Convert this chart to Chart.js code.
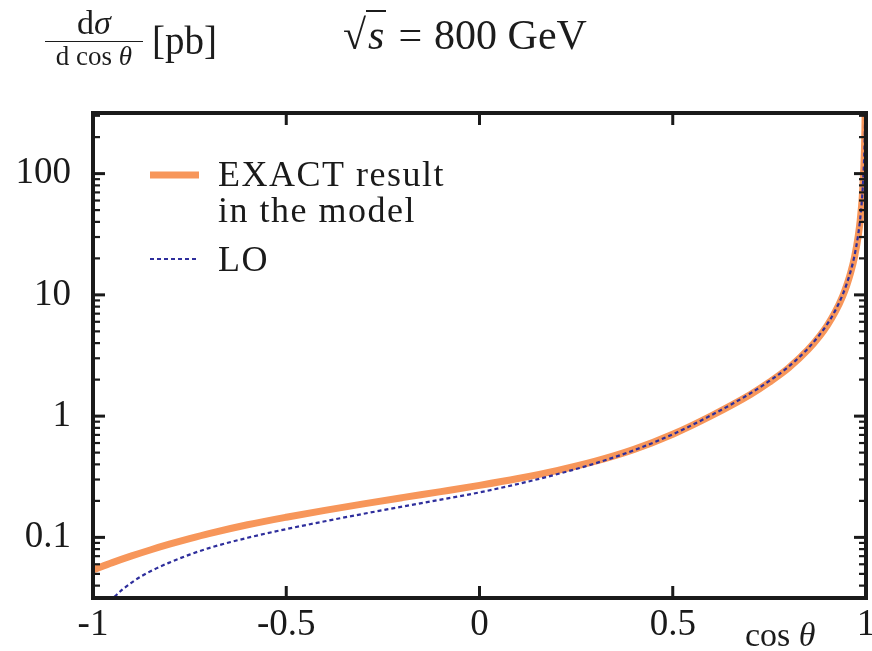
<!DOCTYPE html>
<html>
<head>
<meta charset="utf-8">
<script src="https://cdn.jsdelivr.net/npm/chart.js@4.4.1/dist/chart.umd.min.js"></script>
<style>
  html, body { margin: 0; padding: 0; background: #fff; }
  #wrap { position: relative; width: 872px; height: 651px; font-family: "Liberation Serif", serif; color: #1c1c1c; }
  #c { position: absolute; left: 0; top: 0; }
  .t { position: absolute; white-space: nowrap; }
  #frac { left: 45px; top: 4px; width: 98px; text-align: center; }
  #frac .num { font-size: 34px; line-height: 37px; border-bottom: 1.8px solid #1c1c1c; }
  #frac .den { font-size: 27px; line-height: 28px; }
</style>
</head>
<body>
<div id="wrap">
  <canvas id="c" width="872" height="651"></canvas>
  <div class="t" id="frac"><div class="num">d<i>σ</i></div><div class="den">d cos <i>θ</i></div></div>
  <div class="t" style="left:152px;top:18px;font-size:39px;">[pb]</div>
  <div class="t" style="left:343px;top:11px;font-size:42px;">√<span style="border-top:2px solid #1c1c1c;padding:0 2px;"><i>s</i></span><span style="margin:0 12px;">=</span>800 GeV</div>
  <div class="t" style="left:745px;top:616px;font-size:34px;">cos <i>θ</i></div>
</div>
<script>
// cos(theta) sample points
const cosTheta = [-1, -0.95, -0.9, -0.85, -0.8, -0.75, -0.7, -0.6, -0.5, -0.4, -0.3, -0.2, -0.1, 0,
  0.1, 0.2, 0.3, 0.4, 0.5, 0.6, 0.7, 0.75, 0.8, 0.85, 0.88, 0.9, 0.92, 0.94, 0.95, 0.96, 0.97, 0.98,
  0.985, 0.99, 0.9945, 0.997, 0.9985, 1];

// dsigma/dcos(theta) in pb
const exactResult = [0.054, 0.0619, 0.0703, 0.0791, 0.0882, 0.0977, 0.1075, 0.1272, 0.1467, 0.1671, 0.189, 0.2126, 0.2385, 0.2685,
  0.3058, 0.3552, 0.4246, 0.5314, 0.7086, 1.007, 1.5, 1.906, 2.5, 3.53, 4.57, 5.61, 7.19, 9.83, 11.95, 15.1, 20.3, 30.8,
  41.2, 62.3, 114.7, 214, 440, 2000];
const loResult = [0.0191, 0.031, 0.0424, 0.0528, 0.0624, 0.0721, 0.0816, 0.0992, 0.117, 0.1358, 0.1565, 0.1793, 0.2049, 0.235,
  0.2758, 0.3315, 0.4083, 0.5231, 0.7086, 1.019, 1.535, 1.95, 2.56, 3.62, 4.69, 5.76, 7.38, 10.1, 12.3, 15.55, 20.9, 31.7,
  42.4, 64.2, 118, 220, 453, 2060];

const xTicks = [-1, -0.5, 0, 0.5, 1];
const xTickLabels = ['-1', '-0.5', '0', '0.5', '1'];
const yTicks = [0.1, 1, 10, 100];
const yTickLabels = ['0.1', '1', '10', '100'];

const ORANGE = '#f7965a';
const NAVY = '#2e2e9c';
const INK = '#1a1a1a';
const FONT = '"Liberation Serif", serif';

function toPoints(xs, ys) {
  return xs.map((x, i) => ({ x, y: ys[i] }));
}

function minorTicks(min, max) {
  const out = [];
  for (let k = -3; k <= 3; k++) {
    for (let m = 2; m <= 9; m++) {
      const v = m * Math.pow(10, k);
      if (v > min && v < max) out.push(v);
    }
  }
  return out;
}

const framePlugin = {
  id: 'frame',
  afterDatasetsDraw(chart) {
    const { ctx, chartArea: a, scales: { x, y } } = chart;
    const seg = (x1, y1, x2, y2) => { ctx.beginPath(); ctx.moveTo(x1, y1); ctx.lineTo(x2, y2); ctx.stroke(); };
    ctx.save();
    ctx.strokeStyle = INK;
    ctx.lineWidth = 3;
    xTicks.forEach((v) => {
      const px = x.getPixelForValue(v);
      seg(px, a.bottom, px, a.bottom - 12);
      seg(px, a.top, px, a.top + 12);
    });
    yTicks.forEach((v) => {
      const py = y.getPixelForValue(v);
      seg(a.left, py, a.left + 12, py);
      seg(a.right, py, a.right - 12, py);
    });
    ctx.lineWidth = 2.2;
    minorTicks(y.min, y.max).forEach((v) => {
      const py = y.getPixelForValue(v);
      seg(a.left, py, a.left + 7, py);
      seg(a.right, py, a.right - 7, py);
    });
    ctx.lineWidth = 4;
    ctx.strokeRect(a.left, a.top, a.right - a.left, a.bottom - a.top);

    // legend
    ctx.lineWidth = 7;
    ctx.strokeStyle = ORANGE;
    seg(150, 175, 199, 175);
    ctx.lineWidth = 2.2;
    ctx.strokeStyle = NAVY;
    ctx.setLineDash([4, 3]);
    seg(150, 259, 199, 259);
    ctx.setLineDash([]);
    ctx.fillStyle = INK;
    ctx.font = '36px ' + FONT;
    ctx.letterSpacing = '1.5px';
    ctx.textBaseline = 'alphabetic';
    ctx.fillText('EXACT result', 218, 186);
    ctx.fillText('in the model', 218, 222);
    ctx.fillText('LO', 218, 271);
    ctx.restore();
  }
};

new Chart(document.getElementById('c'), {
  type: 'line',
  data: {
    datasets: [
      {
        label: 'EXACT result in the model',
        data: toPoints(cosTheta, exactResult),
        borderColor: ORANGE,
        borderWidth: 7,
        pointRadius: 0,
        cubicInterpolationMode: 'monotone',
        fill: false,
        order: 1
      },
      {
        label: 'LO',
        data: toPoints(cosTheta, loResult),
        borderColor: NAVY,
        borderWidth: 2.2,
        borderDash: [4, 3],
        pointRadius: 0,
        cubicInterpolationMode: 'monotone',
        fill: false,
        order: 0
      }
    ]
  },
  options: {
    responsive: false,
    animation: false,
    layout: { padding: { top: 113, right: 6, left: 0, bottom: 0 } },
    plugins: { legend: { display: false }, tooltip: { enabled: false } },
    scales: {
      x: {
        type: 'linear',
        min: -1,
        max: 1,
        afterFit: (s) => { s.height = 53; s.paddingLeft = 0; s.paddingRight = 0; },
        afterBuildTicks: (s) => { s.ticks = xTicks.map((v) => ({ value: v })); },
        grid: { display: false, drawTicks: false },
        border: { display: false },
        ticks: {
          autoSkip: false,
          maxRotation: 0,
          padding: 5,
          color: INK,
          font: { family: FONT, size: 37 },
          callback: (v, i) => xTickLabels[i]
        }
      },
      y: {
        type: 'logarithmic',
        min: Math.pow(10, -1.5),
        max: Math.pow(10, 2.5),
        afterFit: (s) => { s.width = 93; s.paddingTop = 0; s.paddingBottom = 0; },
        afterBuildTicks: (s) => { s.ticks = yTicks.map((v) => ({ value: v })); },
        grid: { display: false, drawTicks: false },
        border: { display: false },
        ticks: {
          autoSkip: false,
          padding: 22,
          color: INK,
          font: { family: FONT, size: 37 },
          callback: (v, i) => yTickLabels[i]
        }
      }
    }
  },
  plugins: [framePlugin]
});
</script>
</body>
</html>
